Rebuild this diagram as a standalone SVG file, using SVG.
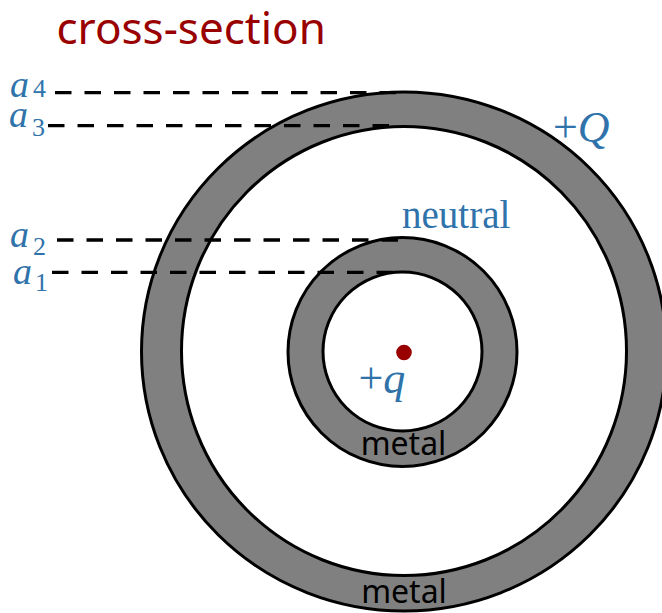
<svg xmlns="http://www.w3.org/2000/svg" width="662" height="613" viewBox="0 0 662 613">
<style>
.ring{fill:#808080;stroke:#000;stroke-width:3}
.hole{fill:#fff;stroke:#000;stroke-width:3}
.dash{stroke:#000;stroke-width:3.3;stroke-dasharray:16.5 13;fill:none}
.math{font-family:"Liberation Serif","Times New Roman",serif;fill:#2f73aa;font-style:italic}
.sub{font-family:"Liberation Serif","Times New Roman",serif;fill:#2f73aa;font-style:normal;font-size:26px}
.lbl{font-family:"Noto Sans","Open Sans",sans-serif;fill:#000;font-size:32px;text-anchor:middle}
</style>
<rect width="662" height="613" fill="#fff"/>
<text x="56.5" y="44.3" font-family="'Noto Sans','Open Sans',sans-serif" font-size="44" fill="#990000">cross-section</text>
<g id="outer-shell">
<ellipse class="ring" cx="404" cy="351.5" rx="262.5" ry="259.5"/>
<ellipse class="hole" cx="404" cy="351" rx="222.5" ry="224.5"/>
</g>
<g id="inner-shell">
<circle class="ring" cx="402.5" cy="352" r="114.5"/>
<circle class="hole" cx="402.5" cy="351.5" r="79.5"/>
</g>
<g id="charge">
<circle cx="404" cy="352.5" r="7.8" fill="#990000"/>
</g>
<g id="connectors">
<line class="dash" x1="55" y1="92.7" x2="400" y2="92.7"/>
<line class="dash" x1="48" y1="125.7" x2="393" y2="125.7"/>
<line class="dash" x1="57" y1="240" x2="402" y2="240"/>
<line class="dash" x1="52" y1="272.3" x2="397" y2="272.3"/>
</g>
<g id="labels">
<text class="math" x="10" y="97" font-size="38">a</text><text class="sub" x="33" y="97">4</text>
<text class="math" x="9" y="126.7" font-size="38">a</text><text class="sub" x="32" y="136">3</text>
<text class="math" x="10" y="246.7" font-size="38">a</text><text class="sub" x="33" y="255">2</text>
<text class="math" x="13" y="284" font-size="38">a</text><text class="sub" x="35" y="291">1</text>
<text x="402" y="228.3" font-family="'Liberation Serif','Times New Roman',serif" font-size="39" fill="#2f73aa">neutral</text>
<text class="math" x="553" y="141.7" font-size="44"><tspan font-style="normal">+</tspan>Q</text>
<text class="math" x="358.5" y="393" font-size="44"><tspan font-style="normal">+</tspan>q</text>
<text class="lbl" x="403.5" y="455">metal</text>
<text class="lbl" x="404" y="603">metal</text>
</g>
</svg>
